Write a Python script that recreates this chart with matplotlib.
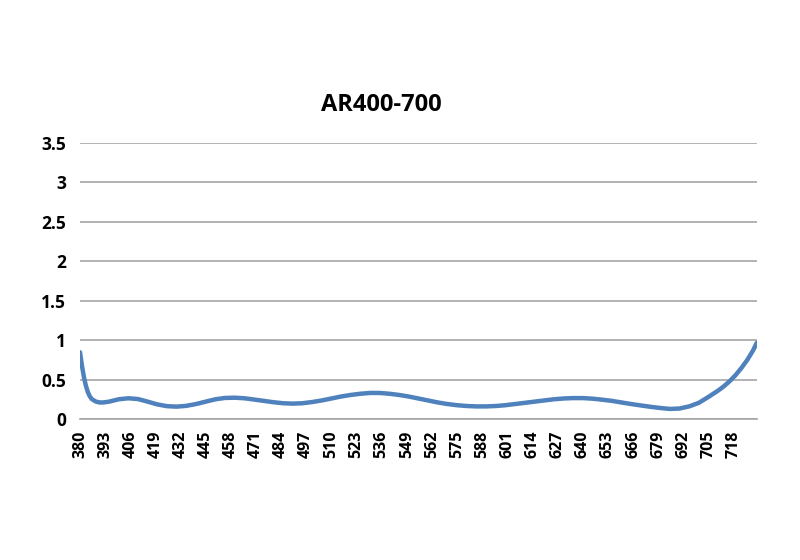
import matplotlib
matplotlib.use("Agg")
import matplotlib.pyplot as plt

plt.rcParams['font.family'] = ['Open Sans', 'DejaVu Sans']

wavelength = [380, 381, 382, 383, 384, 385, 386, 388, 390, 392, 395, 400, 405, 410, 415,
              420, 425, 430, 435, 440, 445, 450, 455, 460, 465, 470, 475, 480, 485,
              490, 495, 500, 505, 510, 515, 520, 525, 530, 535, 540, 545, 550, 555,
              560, 565, 570, 575, 580, 585, 590, 595, 600, 605, 610, 615, 620, 625,
              630, 635, 640, 645, 650, 655, 660, 665, 670, 675, 680, 685, 690, 695,
              700, 705, 710, 713, 716, 719, 722, 725, 728, 730]
reflectance = [0.85, 0.68, 0.54, 0.43, 0.35, 0.295, 0.26, 0.228, 0.215, 0.215, 0.225, 0.255,
               0.268, 0.258, 0.225, 0.19, 0.168, 0.162, 0.172, 0.195, 0.225, 0.255, 0.272,
               0.275, 0.268, 0.252, 0.235, 0.218, 0.205, 0.2, 0.205, 0.22, 0.24, 0.265,
               0.29, 0.31, 0.325, 0.335, 0.335, 0.325, 0.31, 0.29, 0.265, 0.24, 0.215,
               0.195, 0.18, 0.17, 0.165, 0.165, 0.17, 0.18, 0.195, 0.21, 0.225, 0.24,
               0.255, 0.265, 0.27, 0.27, 0.263, 0.25, 0.235, 0.215, 0.195, 0.177, 0.16,
               0.145, 0.133, 0.138, 0.165, 0.21, 0.285, 0.365, 0.42, 0.485, 0.56, 0.65,
               0.75, 0.87, 0.97]
x_ticks = list(range(380, 719, 13))
y_ticks = [0, 0.5, 1, 1.5, 2, 2.5, 3, 3.5]
y_tick_labels = ['0', '0.5', '1', '1.5', '2', '2.5', '3', '3.5']
title = 'AR400-700'

fig = plt.figure(figsize=(8, 5.6), dpi=100)
ax = fig.add_axes([0.1, 0.251, 0.846, 0.494])
ax.plot(wavelength, reflectance, color='#4F81BD', lw=3.2, solid_capstyle='round',
        solid_joinstyle='round', zorder=3)
ax.set_xlim(380, 730)
ax.set_ylim(0, 3.5)
ax.set_yticks(y_ticks)
ax.set_yticklabels(y_tick_labels, fontsize=12.5, fontweight='bold')
ax.set_xticks(x_ticks)
ax.set_xticklabels([str(t) for t in x_ticks], rotation=90, fontsize=11.5, fontweight='bold')
ax.grid(axis='y', color='#A6A6A6', lw=1.2)
ax.set_axisbelow(True)
for s in ['top', 'right', 'left']:
    ax.spines[s].set_visible(False)
ax.spines['bottom'].set_color('#A6A6A6')
ax.spines['bottom'].set_linewidth(1.2)
ax.tick_params(axis='both', length=0)
ax.tick_params(axis='y', pad=10)
ax.tick_params(axis='x', pad=8)
fig.text(381/800, 1 - 105/560, title, ha='center', va='center', fontsize=17, fontweight='bold')
fig.savefig('out.png', dpi=100)
